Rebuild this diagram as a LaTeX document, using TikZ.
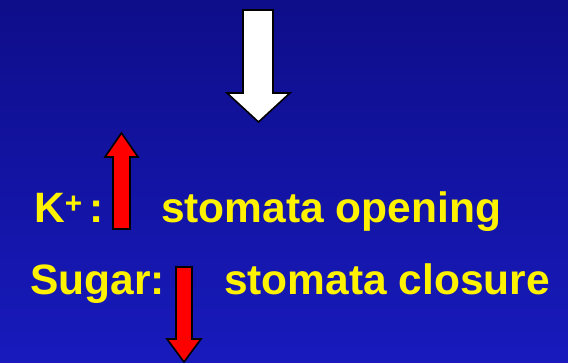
\documentclass[tikz,border=0pt]{standalone}
\usepackage{fontspec}
\setmainfont{Liberation Sans}
\usepackage{tikz}
\usepackage{xcolor}
\definecolor{slidetop}{RGB}{14,14,138}
\definecolor{slidebottom}{RGB}{24,26,188}

\begin{document}
\begin{tikzpicture}[x=1pt,y=-1pt,
  txt/.style={text=yellow,font=\bfseries\fontsize{42.5}{50}\selectfont,inner sep=0pt,anchor=base west},
  blockarrow/.style={draw=black,line width=1.6pt,line join=miter}]
\fill[top color=slidetop,bottom color=slidebottom] (0,0) rectangle (568,363);
\useasboundingbox (0,0) rectangle (568,363);
% white arrow, top
\draw[blockarrow,fill=white] (243,10) -- (273,10) -- (273,93) -- (290,93)
    -- (258.5,122) -- (227,93) -- (243,93) -- cycle;
% red arrow up
\draw[blockarrow,fill=red] (121.5,133) -- (138,157) -- (130,157) -- (130,229)
    -- (113,229) -- (113,157) -- (105,157) -- cycle;
% red arrow down
\draw[blockarrow,fill=red] (176,267) -- (192,267) -- (192,339) -- (201,339)
    -- (184,362) -- (167,339) -- (176,339) -- cycle;
\node[txt] (kion) at (34,223) {K\textsuperscript{+}\,:};
\node[txt] (open) at (161,223) {stomata opening};
\node[txt] (sugar) at (30,295) {Sugar:};
\node[txt] (close) at (224,295) {stomata closure};
\end{tikzpicture}
\end{document}
